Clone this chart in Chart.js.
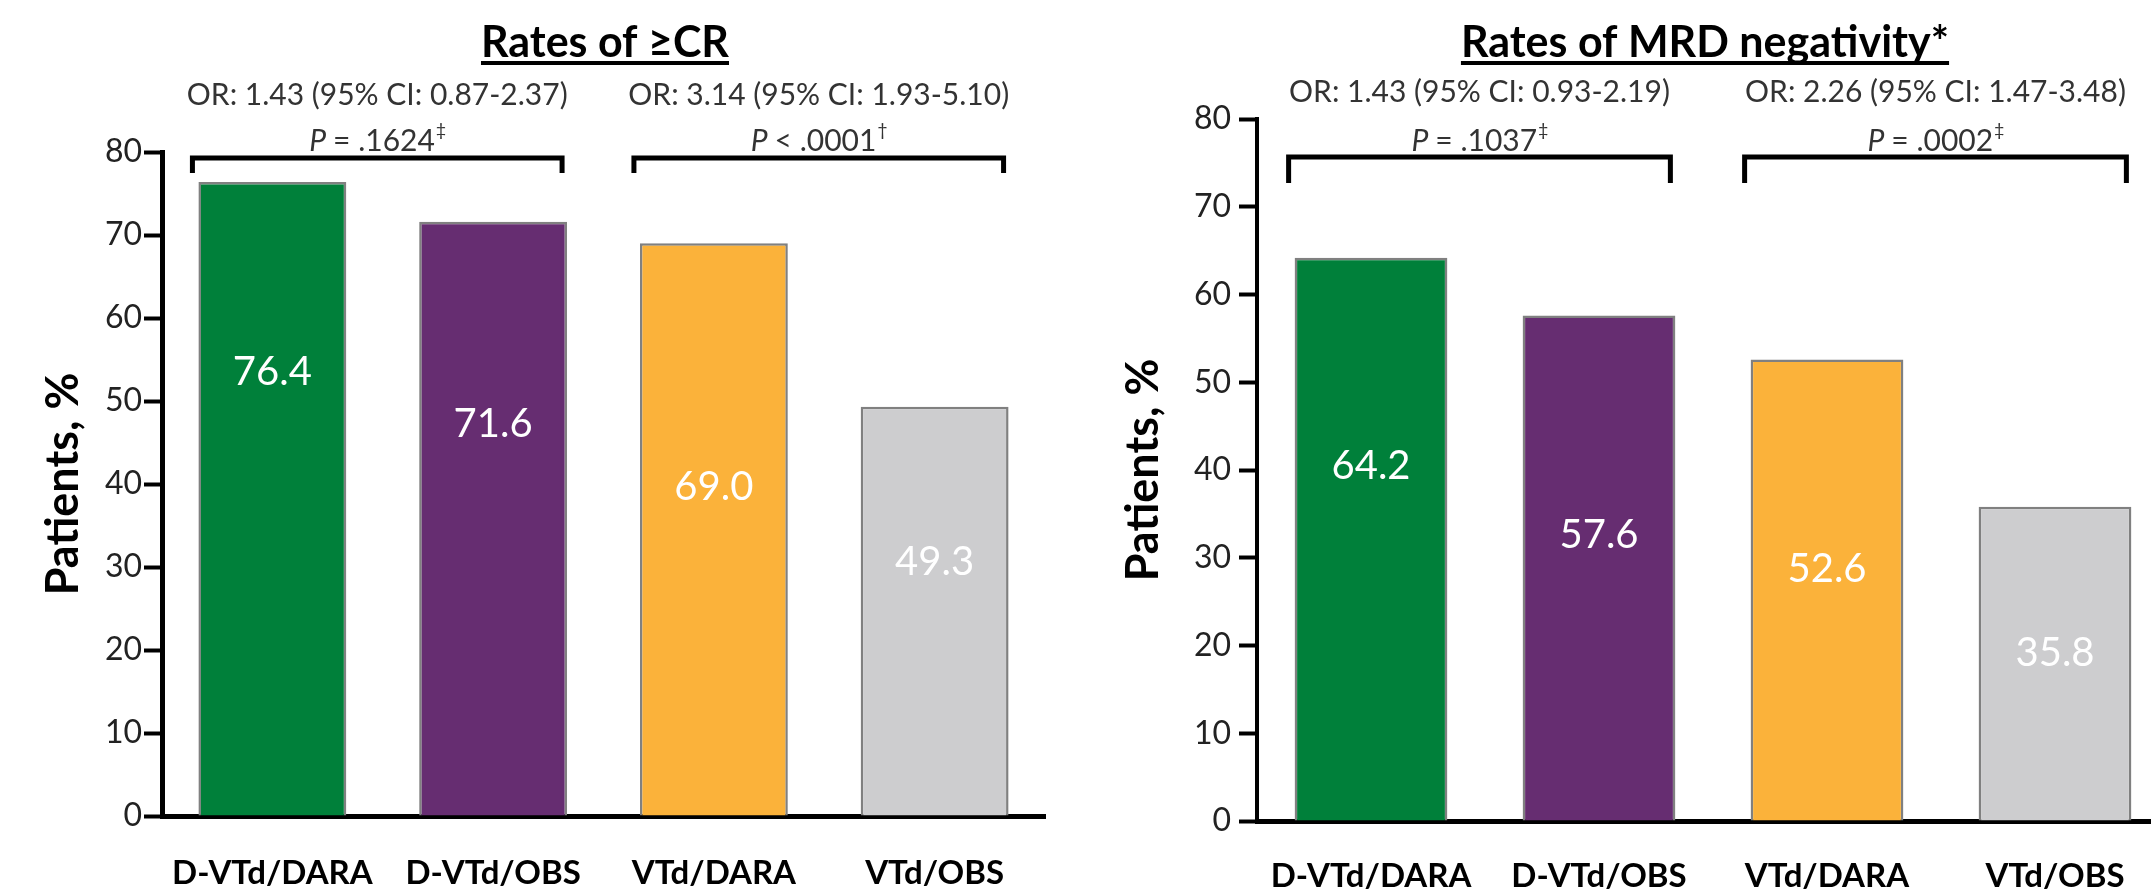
<!doctype html>
<html lang="en">
  <head>
    <meta charset="utf-8">
    <title>Rates of CR and MRD negativity</title>
    <style>
      * { margin: 0; padding: 0; }
      body { width: 2151px; height: 893px; overflow: hidden; background: #fff; position: relative; }
      canvas { position: absolute; top: 0; }
      #crChart { left: 0; }
      #mrdChart { left: 1100px; }
    </style>
  </head>
  <body>
    <canvas id="crChart" width="1100" height="893"></canvas>
    <canvas id="mrdChart" width="1070" height="893"></canvas>
    <script src="https://cdn.jsdelivr.net/npm/chart.js@4.4.1/dist/chart.umd.min.js"></script>
    <script>
    // data
    const groups = ['D-VTd/DARA', 'D-VTd/OBS', 'VTd/DARA', 'VTd/OBS'];
    const crRates = [76.4, 71.6, 69.0, 49.3];
    const mrdRates = [64.2, 57.6, 52.6, 35.8];
    const barColours = ['#00803a', '#662d71', '#fbb23a', '#cdcdcf'];
    const yTicks = [0, 10, 20, 30, 40, 50, 60, 70, 80];

    const crTitle = 'Rates of \u2265CR';
    const mrdTitle = 'Rates of MRD negativity*';
    const crOdds = ['OR: 1.43 (95% CI: 0.87-2.37)', 'OR: 3.14 (95% CI: 1.93-5.10)'];
    const crPvalues = ['= .1624', '< .0001'];
    const crMarks = ['\u2021', '\u2020'];
    const mrdOdds = ['OR: 1.43 (95% CI: 0.93-2.19)', 'OR: 2.26 (95% CI: 1.47-3.48)'];
    const mrdPvalues = ['= .1037', '= .0002'];
    const mrdMarks = ['\u2021', '\u2021'];
    const pairs = [[0, 1], [2, 3]];

    Chart.defaults.font.family = 'Lato, sans-serif';

    // notes plugin: titles, bar values, brackets and OR / P texts
    const notes = {
      id: 'notes',
      afterDatasetsDraw(chart, args, opts) {
        const { ctx } = chart;
        const bars = chart.getDatasetMeta(0).data;
        const values = chart.data.datasets[0].data;
        const y = chart.scales.y;
        ctx.save();

        // title with underline
        ctx.font = 'bold 43px Lato';
        ctx.fillStyle = '#000';
        ctx.textAlign = 'center';
        ctx.textBaseline = 'alphabetic';
        ctx.fillText(opts.title, opts.titleX, 57);
        const tw = ctx.measureText(opts.title).width;
        ctx.fillRect(opts.titleX - tw / 2, 61, tw, 4);

        // values inside bars (placed at a share of the bar height)
        ctx.font = '40px Lato';
        ctx.fillStyle = '#fff';
        ctx.textBaseline = 'middle';
        bars.forEach((bar, i) => {
          ctx.fillText(values[i].toFixed(1), bar.x, y.getPixelForValue(values[i] * opts.labelFrac[i]));
        });

        // brackets and stats
        pairs.forEach((pair, k) => {
          const a = bars[pair[0]], b = bars[pair[1]];
          const l = a.x - a.width / 2 - 6;
          const r = b.x + b.width / 2 - 5;
          const top = opts.bracketY;
          ctx.beginPath();
          ctx.lineWidth = 5;
          ctx.strokeStyle = '#000';
          ctx.lineJoin = 'miter';
          ctx.moveTo(l, top + opts.legLength);
          ctx.lineTo(l, top);
          ctx.lineTo(r, top);
          ctx.lineTo(r, top + opts.legLength);
          ctx.stroke();

          const cx = (l + r) / 2;
          ctx.fillStyle = '#333';
          ctx.textBaseline = 'middle';
          ctx.textAlign = 'center';
          ctx.font = '30px Lato';
          ctx.fillText(opts.odds[k], cx, opts.orY);

          // P line: italic P, value, superscript mark
          ctx.textAlign = 'left';
          ctx.font = 'italic 30px Lato';
          const pw = ctx.measureText('P ').width;
          ctx.font = '30px Lato';
          const vw = ctx.measureText(opts.pvalues[k]).width;
          ctx.font = '18px Lato';
          const mw = ctx.measureText(opts.marks[k]).width;
          let x0 = cx - (pw + vw + mw) / 2;
          ctx.font = 'italic 30px Lato';
          ctx.fillText('P ', x0, opts.pY);
          ctx.font = '30px Lato';
          ctx.fillText(opts.pvalues[k], x0 + pw, opts.pY);
          ctx.font = '18px Lato';
          ctx.fillText(opts.marks[k], x0 + pw + vw + 1, opts.pY - 11);
        });
        ctx.restore();
      }
    };

    function makeChart(id, values, o) {
      return new Chart(document.getElementById(id), {
        type: 'bar',
        data: {
          labels: groups,
          datasets: [{
            data: values,
            backgroundColor: barColours,
            borderColor: '#808080',
            borderWidth: 2.5,
            barPercentage: 0.67,
            categoryPercentage: 1
          }]
        },
        options: {
          responsive: false,
          animation: false,
          layout: { padding: { top: o.top, left: 0, right: o.right, bottom: 0 } },
          scales: {
            x: {
              afterFit: (s) => { s.height = o.xHeight; },
              grid: { display: false },
              border: { display: true, color: '#000', width: 5 },
              ticks: { color: '#000', padding: o.xPad, font: { size: 33, weight: 'bold' } }
            },
            y: {
              min: 0,
              max: 80,
              afterFit: (s) => { s.width = o.yWidth; },
              afterBuildTicks: (s) => { s.ticks = yTicks.map(v => ({ value: v })); },
              grid: { drawOnChartArea: false, drawTicks: true, tickLength: 18, tickWidth: 4, tickColor: '#000' },
              border: { display: true, color: '#000', width: o.axisWidth },
              ticks: { color: '#222', padding: o.yPad, font: { size: 32 } },
              title: {
                display: true,
                text: 'Patients, %',
                color: '#000',
                padding: { top: o.titlePad, bottom: 0 },
                font: { size: 45, weight: 'bold' }
              }
            }
          },
          plugins: {
            legend: { display: false },
            tooltip: { enabled: false },
            notes: o.notes
          }
        },
        plugins: [notes]
      });
    }

    makeChart('crChart', crRates, {
      top: 152, right: 55, xHeight: 77, yWidth: 162, xPad: 30, yPad: 2, axisWidth: 5, titlePad: 36,
      notes: { title: crTitle, titleX: 605, labelFrac: [0.70, 0.66, 0.575, 0.62], odds: crOdds, pvalues: crPvalues, marks: crMarks,
               bracketY: 158, legLength: 15, orY: 95, pY: 141 }
    });

    makeChart('mrdChart', mrdRates, {
      top: 119, right: 1, xHeight: 72, yWidth: 157, xPad: 28, yPad: 8, axisWidth: 4, titlePad: 16,
      notes: { title: mrdTitle, titleX: 605, labelFrac: [0.63, 0.566, 0.546, 0.535], odds: mrdOdds, pvalues: mrdPvalues, marks: mrdMarks,
               bracketY: 157, legLength: 26, orY: 92, pY: 141 }
    });
    </script>
  </body>
</html>
